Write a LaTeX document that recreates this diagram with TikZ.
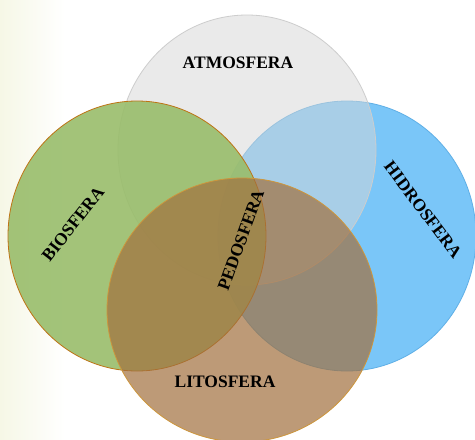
\documentclass[tikz,border=0pt]{standalone}
\usepackage{fontspec}
\setmainfont{Liberation Serif}
\usepackage{xcolor}
\usetikzlibrary{shapes.geometric, positioning}

\definecolor{fondoAmarillo}{RGB}{246,247,230}
\definecolor{atmoFill}{RGB}{215,215,215}
\definecolor{atmoBorde}{RGB}{205,205,205}
\definecolor{bioFill}{RGB}{153,189,107}
\definecolor{bioBorde}{RGB}{190,115,20}
\definecolor{hidroFill}{RGB}{122,198,248}
\definecolor{hidroBorde}{RGB}{95,175,230}
\definecolor{litoFill}{RGB}{162,112,62}
\definecolor{litoBorde}{RGB}{205,150,60}

\begin{document}
\begin{tikzpicture}[
    x=1pt, y=-1pt,
    % Estilo base para las esferas
    esfera/.style={
        ellipse,
        inner sep=0pt,
        outer sep=0pt,
        line width=0.8pt,
        minimum width=258pt,
        minimum height=270pt
    },
    % Estilo para los nombres
    etiqueta/.style={
        font=\fontsize{17.5}{17.5}\selectfont\bfseries,
        text=black,
        inner sep=0pt
    }
]

    % --- FONDO ---
    \fill[white] (0,0) rectangle (475,440);
    \shade[left color=fondoAmarillo, right color=white] (0,0) rectangle (65,440);
    \useasboundingbox (0,0) rectangle (475,440);

    % --- ESFERAS ---
    \node[esfera, draw=hidroBorde, fill=hidroFill] (hidrosfera) at (347,236) {};
    \node[esfera, draw=atmoBorde, fill=atmoFill, fill opacity=0.5] (atmosfera) at (247,150) {};
    \node[esfera, draw=bioBorde, fill=bioFill, fill opacity=0.9] (biosfera) at (137,236) {};
    \node[esfera, draw=litoBorde, fill=litoFill, fill opacity=0.7,
          minimum width=270pt, minimum height=264pt] (litosfera) at (242,310) {};

    % --- NOMBRES ---
    \node[etiqueta] (tatmo) at (238,63) {ATMOSFERA};
    \node[etiqueta, rotate=52] (tbio) at (73,224) {BIOSFERA};
    \node[etiqueta, rotate=-53] (thidro) at (423,210) {HIDROSFERA};
    \node[etiqueta, rotate=70] (tpedo) at (241,240) {PEDOSFERA};
    \node[etiqueta] (tlito) at (225,382) {LITOSFERA};

\end{tikzpicture}
\end{document}
